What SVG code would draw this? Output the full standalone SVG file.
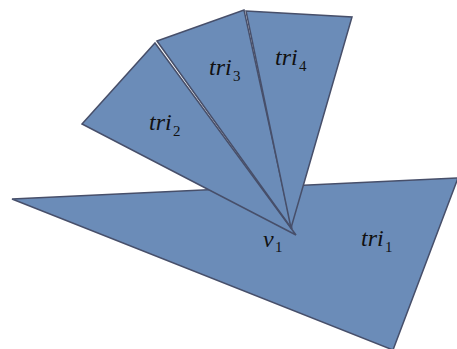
<svg xmlns="http://www.w3.org/2000/svg" width="457" height="349" viewBox="0 0 457 349">
<style>
.tri{fill:#6b8cb8;stroke:#474f6a;stroke-width:1.5;stroke-linejoin:miter}
</style>
<rect width="457" height="349" fill="#fff"/>
<g id="tri1"><polygon class="tri" points="12,199 458,178 393,350"/></g>
<g id="tri2"><polygon class="tri" points="82,124 155,43 296,235"/></g>
<g id="tri3"><polygon class="tri" points="157,41 244,10 292,229"/></g>
<g id="tri4"><polygon class="tri" points="246,11 352,17 291,228"/></g>
<g id="labels" font-family="'Times New Roman', 'Liberation Serif', serif" fill="#111">
<text x="149" y="130" font-size="24" font-style="italic">tri</text><text x="173" y="136" font-size="15">2</text>
<text x="209" y="75" font-size="24" font-style="italic">tri</text><text x="233" y="81" font-size="15">3</text>
<text x="275" y="65" font-size="24" font-style="italic">tri</text><text x="299" y="71" font-size="15">4</text>
<text x="361" y="246" font-size="24" font-style="italic">tri</text><text x="385" y="252" font-size="15">1</text>
<text x="263" y="247" font-size="24" font-style="italic">v</text><text x="275" y="252" font-size="15">1</text>
</g>
</svg>
